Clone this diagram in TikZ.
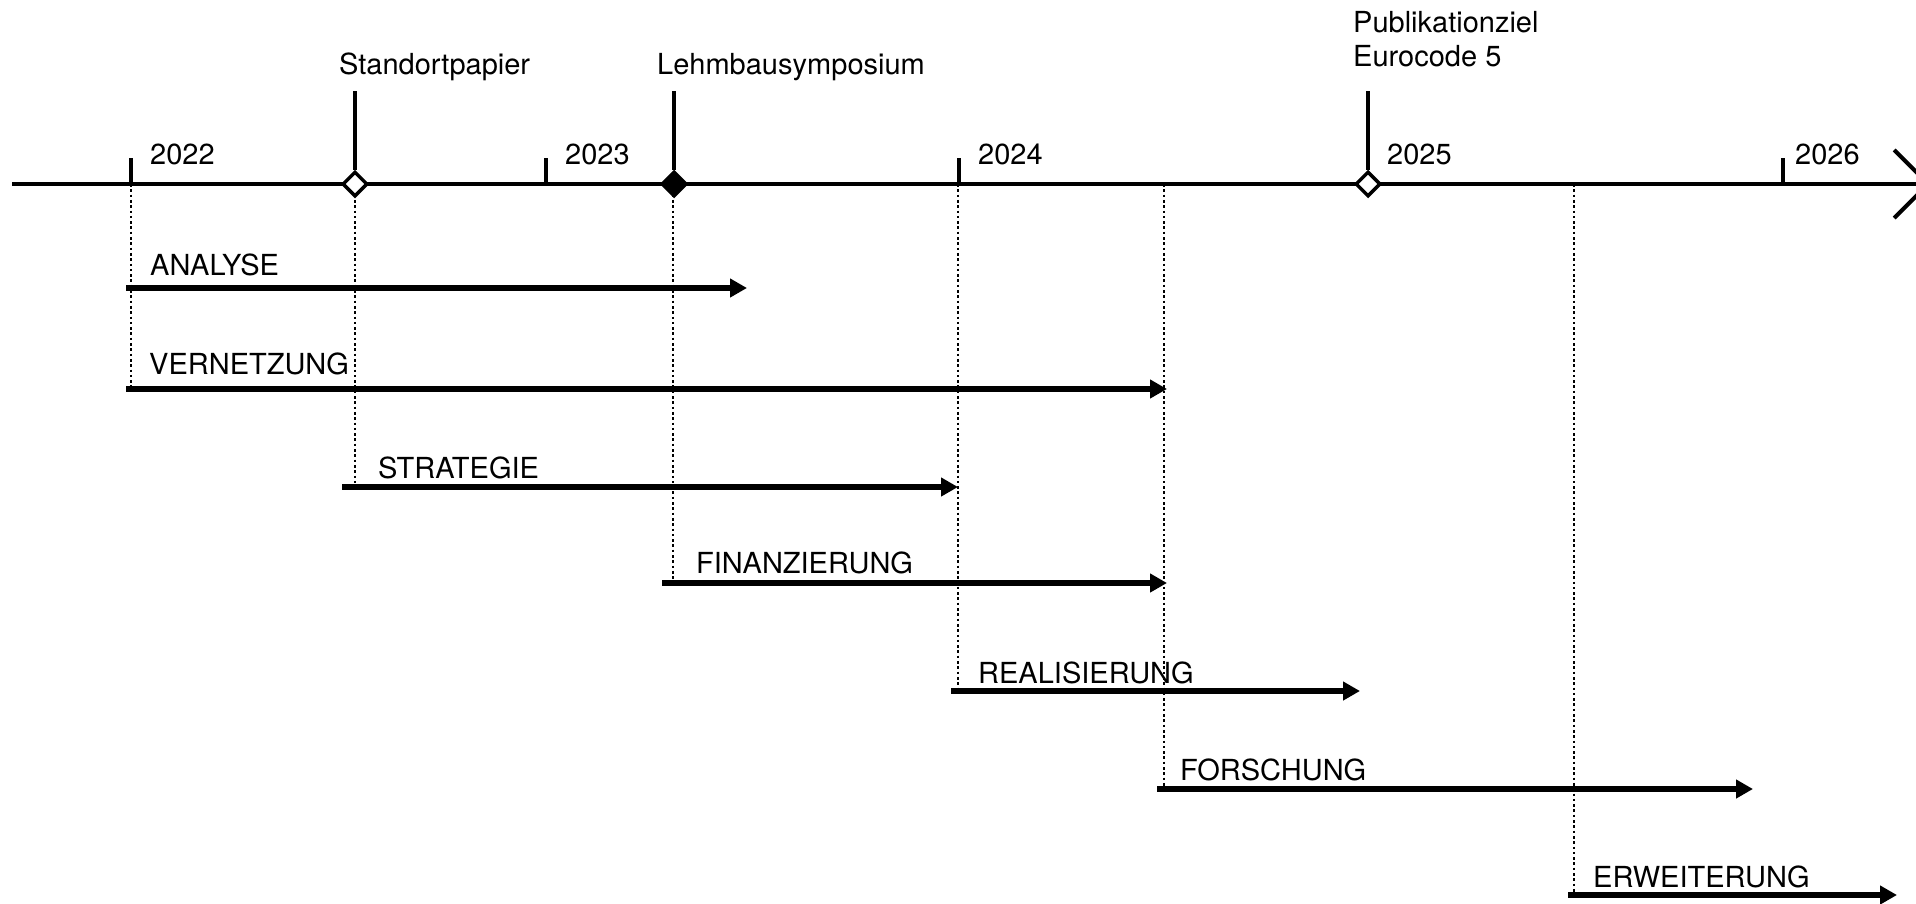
\documentclass[tikz,border=0pt]{standalone}
\usepackage{fontspec}
\setmainfont{TeX Gyre Heros}
\usetikzlibrary{arrows.meta, shapes.geometric, positioning}

\tikzset{
  lbl/.style={inner sep=0pt, anchor=base west, font=\fontsize{29}{34}\selectfont},
  yeartick/.style={line width=3.5pt},
  stem/.style={line width=3.5pt},
  milestone/.style={diamond, draw, line width=3.5pt, fill=white, minimum size=25pt, inner sep=0pt},
  guide/.style={line width=2.8pt, dash pattern=on 2.6pt off 2.7pt},
  phase/.style={line width=5.5pt, -{Triangle[length=17pt,width=18pt]}},
}

\begin{document}
\begin{tikzpicture}[x=1pt, y=-1pt]
        \useasboundingbox[fill=white] (0,0) rectangle (1916,903);
        \clip (0,0) rectangle (1916,903);

        % Zeitachse
        \coordinate (ax0) at (12,184);
        \coordinate (ax1) at (1931,184);
        \draw[line width=4pt, -{Straight Barb[length=34pt,width=68pt]}] (ax0) -- (ax1);

        \coordinate (t22) at (131,184);
        \coordinate (t23) at (546,184);
        \coordinate (t24) at (959,184);
        \coordinate (t26) at (1783,184);
        \draw[yeartick] (t22) -- ++(0,-26);
        \draw[yeartick] (t23) -- ++(0,-26);
        \draw[yeartick] (t24) -- ++(0,-26);
        \draw[yeartick] (t26) -- ++(0,-26);

        \node[lbl](j22) at (150,164){2022};
        \node[lbl](j23) at (565,164){2023};
        \node[lbl](j24) at (978,164){2024};
        \node[lbl](j25) at (1387,164){2025};
        \node[lbl](j26) at (1795,164){2026};

        % Phasen
        \coordinate (a0) at (126,288);  \coordinate (a1) at (747,288);
        \coordinate (v0) at (126,389);  \coordinate (v1) at (1167,389);
        \coordinate (s0) at (342,487);  \coordinate (s1) at (958,487);
        \coordinate (f0) at (662,583);  \coordinate (f1) at (1167,583);
        \coordinate (r0) at (951,691);  \coordinate (r1) at (1360,691);
        \coordinate (o0) at (1157,789); \coordinate (o1) at (1753,789);
        \coordinate (e0) at (1568,895); \coordinate (e1) at (1897,895);

        % Hilfslinien
        \coordinate (m24) at (1164,184);
        \coordinate (m25) at (1574,184);
        \draw[guide] (t22) -- (t22 |- v0);
        \draw[guide] (355,184) -- (355,487);
        \draw[guide] (673,184) -- (673,583);
        \draw[guide] (958,184) -- (958,691);
        \draw[guide] (m24) -- (m24 |- o0);
        \draw[guide] (m25) -- (m25 |- e0);

        % Meilensteine
        \node[milestone](std) at (355,184){};
        \node[milestone, fill=black](lehm) at (674,184){};
        \node[milestone](euro) at (1368,184){};
        \draw[stem] (std.north) -- ++(0,-79);
        \draw[stem] (lehm.north) -- ++(0,-79);
        \draw[stem] (euro.north) -- ++(0,-79);

        \node[lbl](stdl) at (339,74){Standortpapier};
        \node[lbl](lehml) at (657,74){Lehmbausymposium};
        \node[lbl, align=left](eurol) at (1353,66){Publikationziel\\Eurocode 5};

        \draw[phase] (a0) -- (a1);
        \draw[phase] (v0) -- (v1);
        \draw[phase] (s0) -- (s1);
        \draw[phase] (f0) -- (f1);
        \draw[phase] (r0) -- (r1);
        \draw[phase] (o0) -- (o1);
        \draw[phase] (e0) -- (e1);

        \node[lbl](al) at (150,275){ANALYSE};
        \node[lbl](vl) at (149,374){VERNETZUNG};
        \node[lbl](sl) at (378,478){STRATEGIE};
        \node[lbl](fl) at (696,573){FINANZIERUNG};
        \node[lbl](rl) at (978,683){REALISIERUNG};
        \node[lbl](ol) at (1180,780){FORSCHUNG};
        \node[lbl](el) at (1593,887){ERWEITERUNG};

    \end{tikzpicture}
\end{document}
